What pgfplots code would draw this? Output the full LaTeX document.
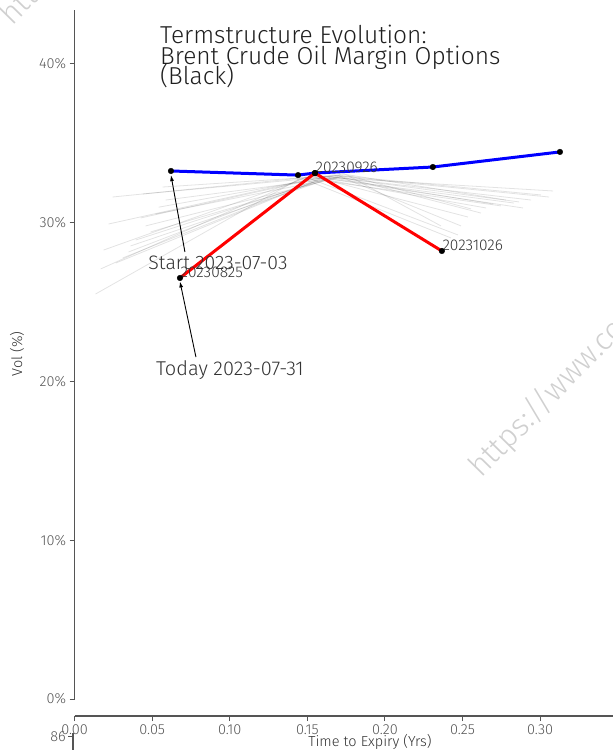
\documentclass[border=0pt]{standalone}
\usepackage{pgfplots}
\pgfplotsset{compat=1.18}
\usepackage{fontspec}
\setmainfont{Fira Sans}[UprightFont=* Light]
\usetikzlibrary{arrows.meta}
\definecolor{tickgray}{HTML}{555555}
\definecolor{txtgray}{HTML}{333333}
\definecolor{wm}{HTML}{D0D0D0}
\begin{document}
\begin{tikzpicture}[x=1pt,y=1pt]
\useasboundingbox (0,0) rectangle (613,750);
\clip (0,0) rectangle (613,750);
% watermarks
\node[rotate=45.5, anchor=base west, text=wm, font=\fontsize{31}{31}\selectfont, inner sep=0pt] at (481,271) {https://www.co};
\node[rotate=45.5, anchor=base west, text=wm, font=\fontsize{31}{31}\selectfont, inner sep=0pt] at (12,723) {https://www.co};
\begin{axis}[
  at={(74.6pt,34pt)}, anchor=south west,
  scale only axis, width=538.4pt, height=706pt,
  xmin=0, xmax=0.347, ymin=-1.07, ymax=43.40,
  axis x line*=bottom, axis y line*=left,
  y axis line style={draw=none},
  x axis line style={draw=tickgray, line width=1.2pt},
  xtick={0,0.05,0.10,0.15,0.20,0.25,0.30},
  ytick={0,10,20,30,40},
  tick align=outside, major tick length=5pt,
  tick style={tickgray, line width=1pt},
  ticklabel style={font=\fontsize{14.5}{16}\selectfont, text=tickgray},
  /pgf/number format/assume math mode=true,
  yticklabel={\pgfmathprintnumber{\tick}\%},
  xticklabel style={/pgf/number format/.cd, fixed, fixed zerofill, precision=2},
  clip=false,
  greyline/.style={black, opacity=0.11, line width=0.8pt},
]
\draw[tickgray, line width=1.2pt] (axis cs:0,0) -- (axis cs:0,43.4);
% grey evolution curves
\addplot[greyline] coordinates {(0.0135,25.51) (0.1458,32.82) (0.2426,29.04)};
\addplot[greyline] coordinates {(0.0168,27.09) (0.1490,32.88) (0.2471,29.23)};
\addplot[greyline] coordinates {(0.0187,28.28) (0.1523,32.94) (0.2535,30.36)};
\addplot[greyline] coordinates {(0.0219,29.92) (0.1555,32.82) (0.2652,30.93)};
\addplot[greyline] coordinates {(0.0245,31.62) (0.1587,32.94) (0.2697,31.18)};
\addplot[greyline] coordinates {(0.0265,27.46) (0.1574,32.69) (0.2748,31.06)};
\addplot[greyline] coordinates {(0.0310,27.78) (0.1600,32.82) (0.2832,31.24)};
\addplot[greyline] coordinates {(0.0348,28.16) (0.1619,32.94) (0.2865,31.31)};
\addplot[greyline] coordinates {(0.0361,28.54) (0.1639,32.76) (0.2890,30.93)};
\addplot[greyline] coordinates {(0.0394,28.91) (0.1652,32.88) (0.2942,31.43)};
\addplot[greyline] coordinates {(0.0426,30.30) (0.1665,33.01) (0.3006,31.75)};
\addplot[greyline] coordinates {(0.0439,31.81) (0.1684,32.94) (0.3058,31.62)};
\addplot[greyline] coordinates {(0.0458,29.80) (0.1690,32.82) (0.3084,32.00)};
\addplot[greyline] coordinates {(0.0490,29.42) (0.1703,32.94) (0.2619,30.61)};
\addplot[greyline] coordinates {(0.0523,30.55) (0.1716,32.88) (0.2490,29.80)};
\addplot[greyline] coordinates {(0.0542,30.98) (0.1729,33.07) (0.2781,31.43)};
\addplot[greyline] coordinates {(0.0568,32.25) (0.1748,33.01) (0.2555,30.87)};
\addplot[greyline] coordinates {(0.0587,31.43) (0.1768,32.94) (0.2361,29.80)};
% start curve
\addplot[blue, line width=3pt] coordinates {(0.0621,33.26) (0.1440,33.00) (0.1549,33.13) (0.2309,33.51) (0.3128,34.46)};
% today curve
\addplot[red, line width=3pt] coordinates {(0.0679,26.52) (0.1549,33.13) (0.2367,28.22)};
\addplot[only marks, mark=*, mark size=2.8pt, black] coordinates {(0.0621,33.26) (0.1440,33.00) (0.1549,33.13) (0.2309,33.51) (0.3128,34.46)};
\addplot[only marks, mark=*, mark size=2.8pt, black] coordinates {(0.0679,26.52) (0.1549,33.13) (0.2367,28.22)};
% labels
\node[anchor=south west, inner sep=0.5pt, text=txtgray, font=\fontsize{15.5}{17}\selectfont] at (axis cs:0.0679,26.52) {20230825};
\node[anchor=south west, inner sep=0.5pt, text=txtgray, font=\fontsize{15.5}{17}\selectfont] at (axis cs:0.1549,33.13) {20230926};
\node[anchor=south west, inner sep=0.5pt, text=txtgray, font=\fontsize{15.5}{17}\selectfont] at (axis cs:0.2367,28.22) {20231026};
% annotations
\node[text=txtgray, font=\fontsize{19.5}{21}\selectfont] at (axis cs:0.0924,27.46) {Start 2023-07-03};
\draw[black, line width=0.9pt, -{Latex[length=6pt,width=4pt]}] (axis cs:0.0711,28.16) -- (axis cs:0.0621,33.0);
\node[text=txtgray, font=\fontsize{20}{22}\selectfont] at (axis cs:0.1001,20.72) {Today 2023-07-31};
\draw[black, line width=0.9pt, -{Latex[length=6pt,width=4pt]}] (axis cs:0.0782,21.54) -- (axis cs:0.0679,26.30);
\end{axis}
% title
\node[anchor=base west, inner sep=0pt, text=black!88, font=\fontsize{24.5}{24}\selectfont] at (160,706) {Termstructure Evolution:};
\node[anchor=base west, inner sep=0pt, text=black!88, font=\fontsize{24.5}{24}\selectfont] at (160,685.5) {Brent Crude Oil Margin Options};
\node[anchor=base west, inner sep=0pt, text=black!88, font=\fontsize{24.5}{24}\selectfont] at (160,665) {(Black)};
% axis labels
\node[rotate=90, text=txtgray, font=\fontsize{14.5}{16}\selectfont] at (17,396) {Vol (\%)};
\node[text=txtgray, font=\fontsize{14.5}{16}\selectfont] at (370,8) {Time to Expiry (Yrs)};
% partial lower axis
\draw[tickgray, line width=1.2pt] (73,17) -- (73,-2);
\draw[tickgray, line width=1pt] (73,13) -- (68,13);
\node[anchor=east, inner sep=1pt, text=tickgray, font=\fontsize{14.5}{16}\selectfont] at (67,13) {86};
\end{tikzpicture}
\end{document}
